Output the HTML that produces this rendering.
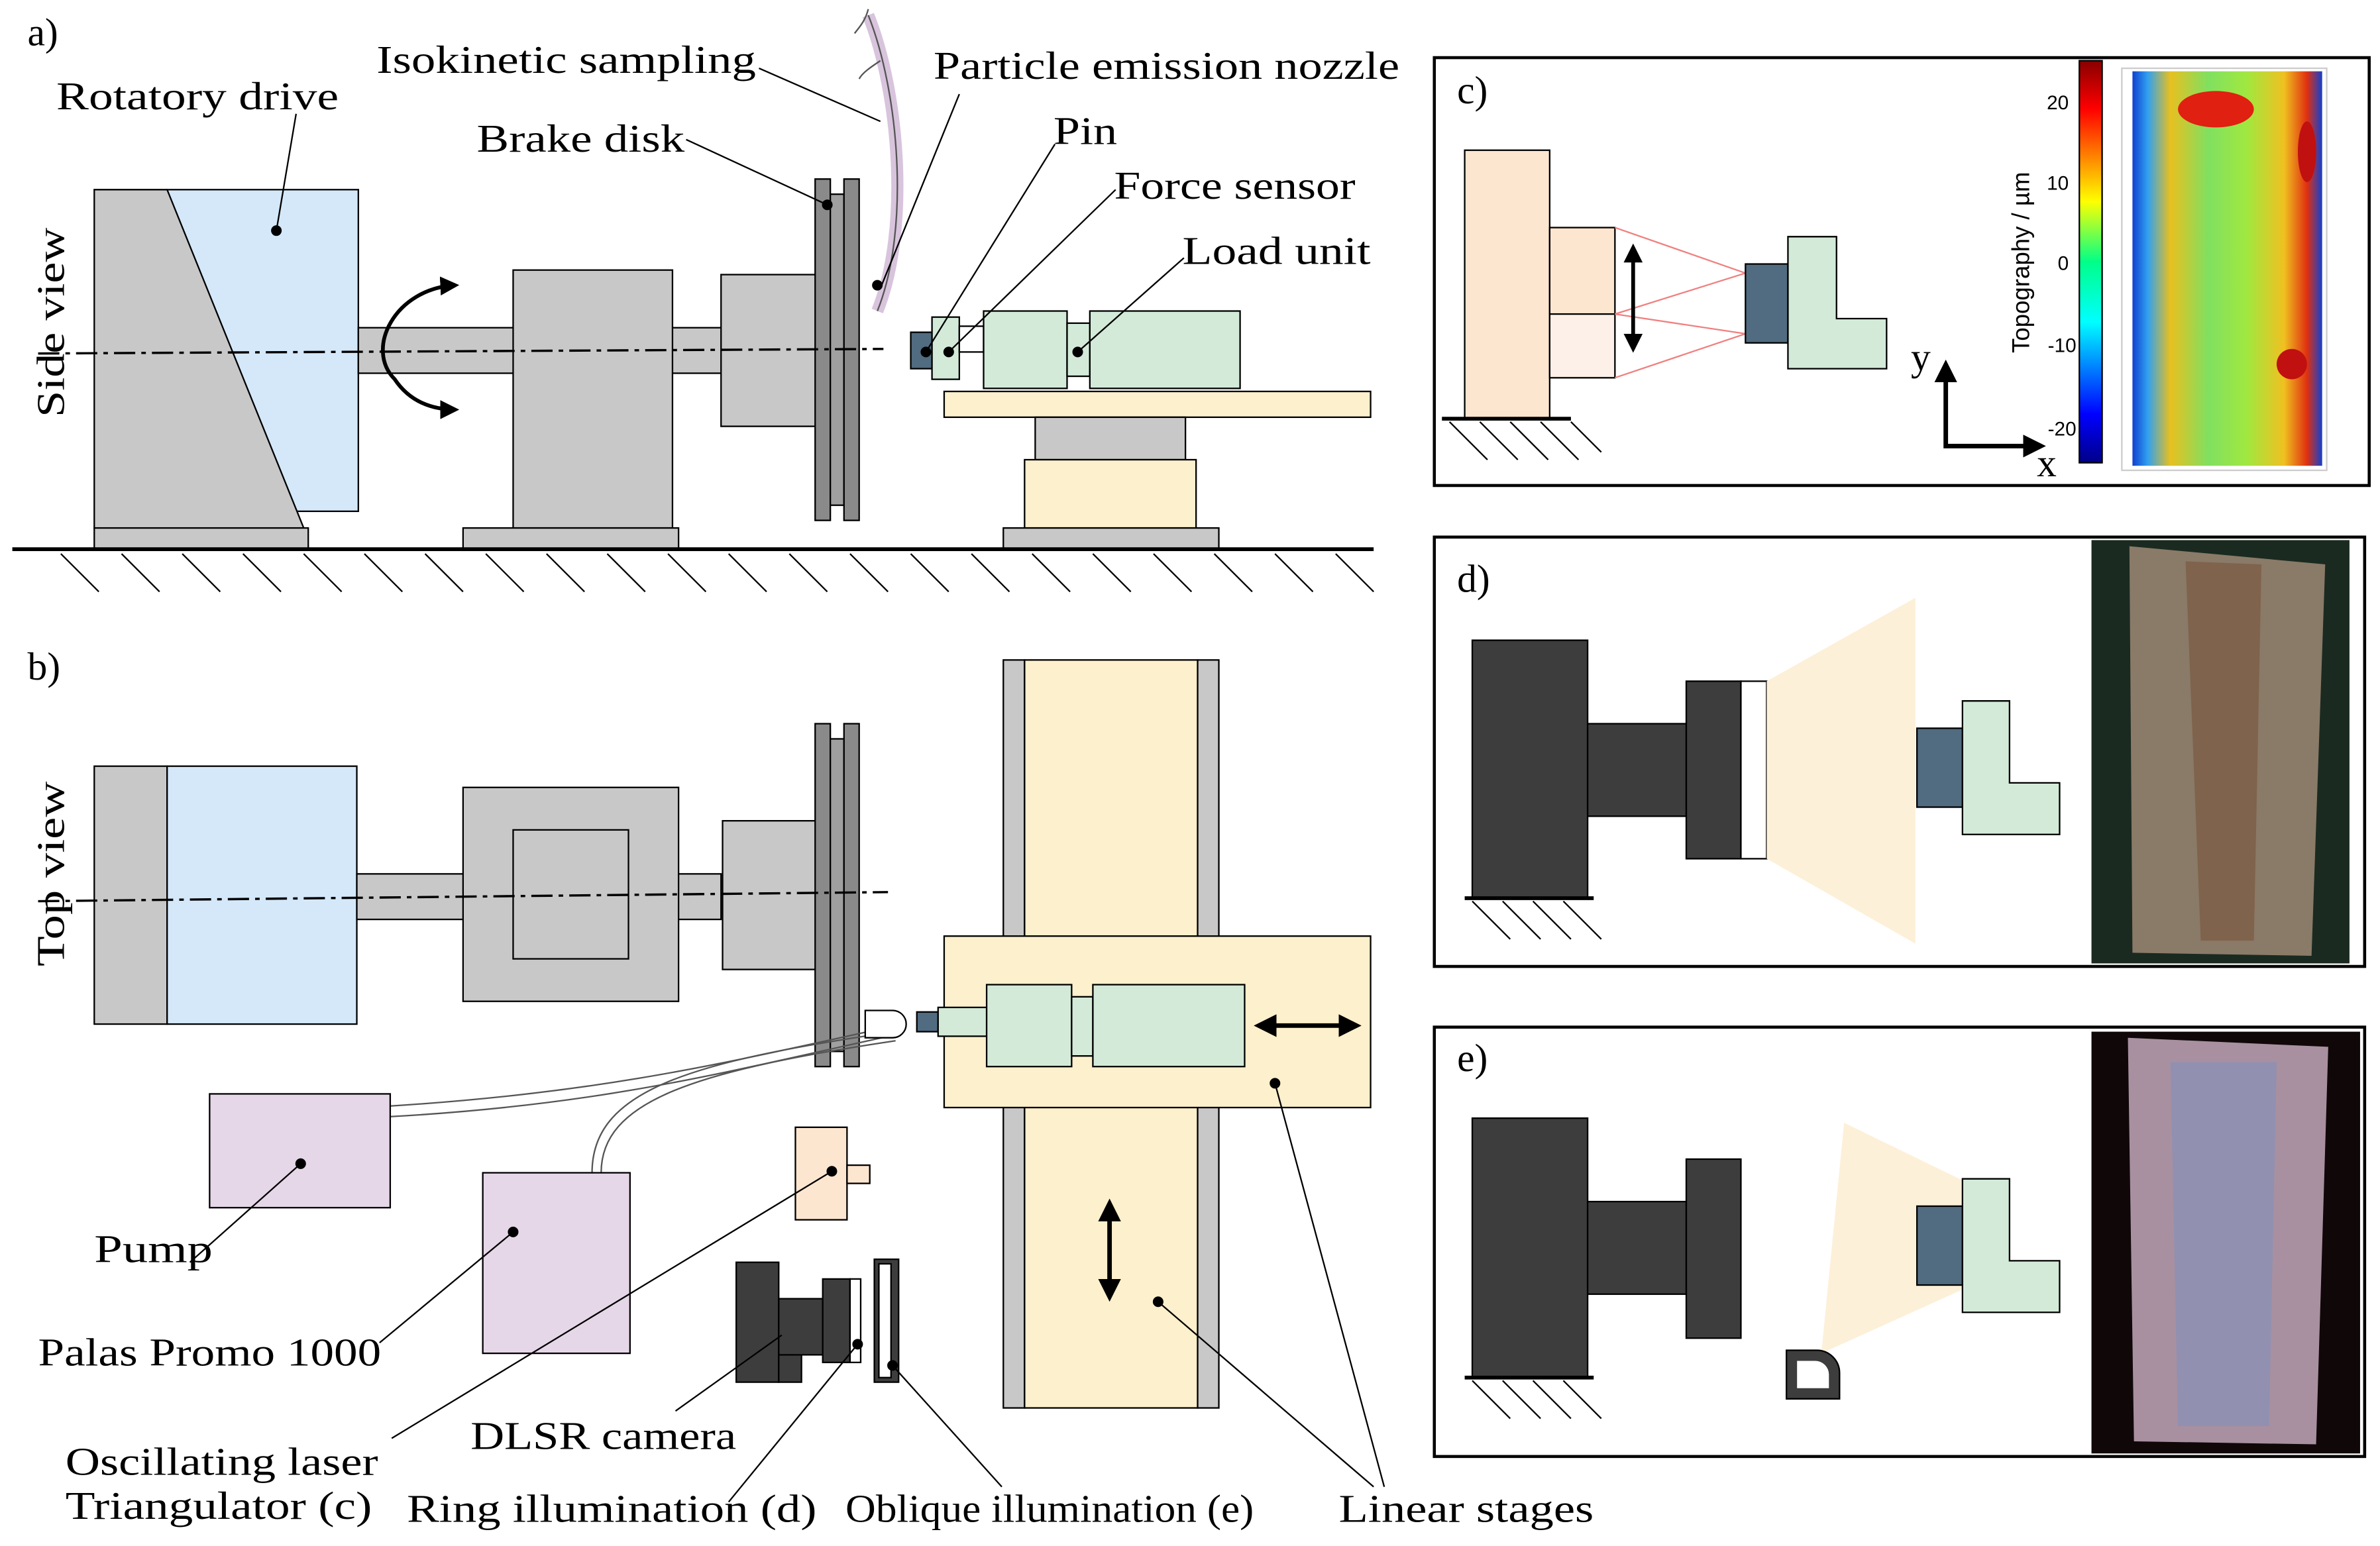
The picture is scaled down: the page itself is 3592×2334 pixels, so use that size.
<!DOCTYPE html>
<html><head><meta charset="utf-8"><style>html,body{margin:0;padding:0;background:#fff}svg{display:block}</style></head><body>
<svg width="3592" height="2334" viewBox="0 0 1568 1019" xmlns="http://www.w3.org/2000/svg" font-family="Liberation Serif, serif" font-size="26">
<defs>
<marker id="ah" viewBox="0 0 10 10" refX="8" refY="5" markerWidth="5" markerHeight="5" orient="auto-start-reverse"><path d="M0,0L10,5L0,10z" fill="#000"/></marker>
<linearGradient id="cb" x1="0" y1="0" x2="0" y2="1"><stop offset="0" stop-color="#800"/><stop offset=".12" stop-color="#f00"/><stop offset=".35" stop-color="#ff0"/><stop offset=".5" stop-color="#0f8"/><stop offset=".65" stop-color="#0ff"/><stop offset=".88" stop-color="#00f"/><stop offset="1" stop-color="#008"/></linearGradient>
<linearGradient id="topo" x1="0" y1="0" x2="1" y2="0"><stop offset="0" stop-color="#1040d0"/><stop offset=".08" stop-color="#30a0f0"/><stop offset=".2" stop-color="#e8c020"/><stop offset=".4" stop-color="#80e060"/><stop offset=".6" stop-color="#a0e840"/><stop offset=".8" stop-color="#f0c020"/><stop offset=".92" stop-color="#e03010"/><stop offset="1" stop-color="#1040d0"/></linearGradient>
</defs>
<g stroke="#000" stroke-width="1">
<rect x="110" y="125" width="126" height="212" fill="#d4e8fa"/>
<polygon points="62,125 110,125 200,348 62,348" fill="#c8c8c8"/>
<rect x="62" y="348" width="141" height="14" fill="#c8c8c8"/>
<rect x="236" y="216" width="240" height="30" fill="#c8c8c8"/>
<rect x="338" y="178" width="105" height="170" fill="#c8c8c8"/>
<rect x="305" y="348" width="142" height="14" fill="#c8c8c8"/>
<rect x="475" y="181" width="65" height="100" fill="#c8c8c8"/>
<rect x="537" y="118" width="10" height="225" fill="#8a8a8a"/>
<rect x="547" y="128" width="9" height="205" fill="#a0a0a0"/>
<rect x="556" y="118" width="10" height="225" fill="#8a8a8a"/>
<rect x="600" y="219" width="14" height="24" fill="#516b80"/>
<rect x="614" y="209" width="18" height="41" fill="#d3ead8"/>
<rect x="632" y="215" width="16" height="17" fill="#fff"/>
<rect x="648" y="205" width="55" height="51" fill="#d3ead8"/>
<rect x="703" y="213" width="15" height="35" fill="#d3ead8"/>
<rect x="718" y="205" width="99" height="51" fill="#d3ead8"/>
<rect x="622" y="258" width="281" height="17" fill="#fdf0cc"/>
<rect x="682" y="275" width="99" height="28" fill="#c8c8c8"/>
<rect x="675" y="303" width="113" height="45" fill="#fdf0cc"/>
<rect x="661" y="348" width="142" height="14" fill="#c8c8c8"/>
<line x1="8" y1="362" x2="905" y2="362" stroke-width="2.5"/>
<path d="M572,10 C592,60 600,150 578,205" fill="none" stroke="#d8c4dc" stroke-width="8"/>
<path d="M572,10 C592,60 600,150 578,205 M572,6 C570,14 566,18 563,22 M580,40 C574,44 568,48 566,52" fill="none" stroke="#555" stroke-width="1"/>
<path d="M40,365 l25,25 M80,365 l25,25 M120,365 l25,25 M160,365 l25,25 M200,365 l25,25 M240,365 l25,25 M280,365 l25,25 M320,365 l25,25 M360,365 l25,25 M400,365 l25,25 M440,365 l25,25 M480,365 l25,25 M520,365 l25,25 M560,365 l25,25 M600,365 l25,25 M640,365 l25,25 M680,365 l25,25 M720,365 l25,25 M760,365 l25,25 M800,365 l25,25 M840,365 l25,25 M880,365 l25,25" stroke-width="1"/>
<line x1="25" y1="233" x2="582" y2="230" stroke-width="1.5" stroke-dasharray="14,4,3,4"/>
<path d="M300,188 C260,190 240,230 260,250 C270,265 285,270 300,270" fill="none" stroke-width="2.5" marker-start="url(#ah)" marker-end="url(#ah)"/>
<rect x="62" y="505" width="48" height="170" fill="#c8c8c8"/>
<rect x="110" y="505" width="125" height="170" fill="#d4e8fa"/>
<rect x="235" y="576" width="240" height="30" fill="#c8c8c8"/>
<rect x="305" y="519" width="142" height="141" fill="#c8c8c8"/>
<rect x="338" y="547" width="76" height="85" fill="#c8c8c8"/>
<rect x="476" y="541" width="64" height="98" fill="#c8c8c8"/>
<rect x="537" y="477" width="10" height="226" fill="#8a8a8a"/>
<rect x="547" y="487" width="9" height="206" fill="#a0a0a0"/>
<rect x="556" y="477" width="10" height="226" fill="#8a8a8a"/>
<line x1="25" y1="594" x2="585" y2="588" stroke-width="1.5" stroke-dasharray="14,4,3,4"/>
<rect x="661" y="435" width="14" height="493" fill="#c8c8c8"/>
<rect x="789" y="435" width="14" height="493" fill="#c8c8c8"/>
<rect x="675" y="435" width="114" height="493" fill="#fdf0cc"/>
<rect x="622" y="617" width="281" height="113" fill="#fdf0cc"/>
<rect x="604" y="667" width="14" height="13" fill="#516b80"/>
<rect x="618" y="664" width="32" height="19" fill="#d3ead8"/>
<rect x="650" y="649" width="56" height="54" fill="#d3ead8"/>
<rect x="706" y="657" width="14" height="39" fill="#d3ead8"/>
<rect x="720" y="649" width="100" height="54" fill="#d3ead8"/>
<line x1="829" y1="676" x2="894" y2="676" stroke-width="3" marker-start="url(#ah)" marker-end="url(#ah)"/>
<line x1="731" y1="793" x2="731" y2="855" stroke-width="3" marker-start="url(#ah)" marker-end="url(#ah)"/>
<path d="M257,729 C400,720 480,700 590,676 M257,736 C400,728 480,706 590,682" fill="none" stroke="#555"/>
<path d="M390,773 C390,720 450,700 590,680 M396,773 C396,726 456,706 590,686" fill="none" stroke="#555"/>
<path d="M570,666 h18 a9,9 0 0 1 0,18 h-18z" fill="#fff"/>
<rect x="138" y="721" width="119" height="75" fill="#e6d7e8"/>
<rect x="318" y="773" width="97" height="119" fill="#e6d7e8"/>
<rect x="524" y="743" width="34" height="61" fill="#fde6d0"/>
<rect x="558" y="768" width="15" height="12" fill="#fde6d0"/>
<rect x="485" y="832" width="28" height="79" fill="#3d3d3d"/>
<rect x="513" y="893" width="15" height="18" fill="#3d3d3d"/>
<rect x="513" y="856" width="29" height="37" fill="#3d3d3d"/>
<rect x="542" y="843" width="18" height="55" fill="#3d3d3d"/>
<rect x="560" y="843" width="7" height="55" fill="#fff"/>
<rect x="576" y="830" width="16" height="81" fill="#3d3d3d"/>
<rect x="579" y="833" width="8" height="75" fill="#fff"/>
<rect x="945" y="38" width="616" height="282" fill="none" stroke-width="2"/>
<rect x="965" y="99" width="56" height="177" fill="#fde6d0"/>
<rect x="1021" y="150" width="43" height="57" fill="#fde6d0"/>
<rect x="1021" y="207" width="43" height="42" fill="#fdf0e8"/>
<path d="M1064,150 L1150,180 M1064,207 L1150,180 M1064,207 L1150,220 M1064,249 L1150,220" stroke="#f08080"/>
<rect x="1150" y="174" width="28" height="52" fill="#516b80"/>
<polygon points="1178,156 1210,156 1210,210 1243,210 1243,243 1178,243" fill="#d3ead8"/>
<line x1="950" y1="276" x2="1035" y2="276" stroke-width="2.5"/>
<path d="M955,278 l25,25 M975,278 l25,25 M995,278 l25,25 M1015,278 l25,25 M1035,278 l20,20"/>
<line x1="1076" y1="163" x2="1076" y2="230" stroke-width="2.5" marker-start="url(#ah)" marker-end="url(#ah)"/>
<polyline points="1282,240 1282,294 1345,294" fill="none" stroke-width="3" marker-start="url(#ah)" marker-end="url(#ah)"/>
<rect x="1370" y="40" width="15" height="265" fill="url(#cb)"/>
<rect x="1398" y="45" width="135" height="265" fill="#fff" stroke="#ccc"/>
<rect x="1405" y="47" width="125" height="260" fill="url(#topo)" stroke="none"/>
<ellipse cx="1460" cy="72" rx="25" ry="12" fill="#e02010" stroke="none"/>
<ellipse cx="1520" cy="100" rx="6" ry="20" fill="#c01010" stroke="none"/>
<ellipse cx="1510" cy="240" rx="10" ry="10" fill="#c01010" stroke="none"/>
<rect x="945" y="354" width="613" height="283" fill="none" stroke-width="2"/>
<rect x="970" y="422" width="76" height="170" fill="#3d3d3d"/>
<rect x="1046" y="477" width="65" height="61" fill="#3d3d3d"/>
<rect x="1111" y="449" width="36" height="117" fill="#3d3d3d"/>
<rect x="1147" y="449" width="17" height="117" fill="#fff"/>
<polygon points="1164,449 1262,394 1262,622 1164,566" fill="#fdf0d8" stroke="none"/>
<rect x="1263" y="480" width="30" height="52" fill="#516b80"/>
<polygon points="1293,462 1324,462 1324,516 1357,516 1357,550 1293,550" fill="#d3ead8"/>
<line x1="965" y1="592" x2="1050" y2="592" stroke-width="2.5"/>
<path d="M970,594 l25,25 M990,594 l25,25 M1010,594 l25,25 M1030,594 l25,25"/>
<rect x="1378" y="356" width="170" height="279" fill="#1a2a20" stroke="none"/>
<polygon points="1403,360 1532,372 1523,630 1405,628" fill="#8a7a68" stroke="none"/>
<polygon points="1440,370 1490,372 1485,620 1450,620" fill="#7a5a40" stroke="none" opacity=".7"/>
<rect x="945" y="677" width="613" height="283" fill="none" stroke-width="2"/>
<rect x="970" y="737" width="76" height="171" fill="#3d3d3d"/>
<rect x="1046" y="792" width="65" height="61" fill="#3d3d3d"/>
<rect x="1111" y="764" width="36" height="118" fill="#3d3d3d"/>
<polygon points="1200,892 1215,740 1293,778 1293,850" fill="#fdf0d8" stroke="none"/>
<rect x="1263" y="795" width="30" height="52" fill="#516b80"/>
<polygon points="1293,777 1324,777 1324,831 1357,831 1357,865 1293,865" fill="#d3ead8"/>
<path d="M1177,890 h20 a15,15 0 0 1 15,15 v17 h-35z" fill="#3d3d3d"/>
<path d="M1184,897 h12 a9,9 0 0 1 9,9 v9 h-21z" fill="#fff" stroke="none"/>
<line x1="965" y1="908" x2="1050" y2="908" stroke-width="2.5"/>
<path d="M970,910 l25,25 M990,910 l25,25 M1010,910 l25,25 M1030,910 l25,25"/>
<rect x="1378" y="680" width="177" height="278" fill="#100808" stroke="none"/>
<polygon points="1402,684 1534,690 1526,952 1406,950" fill="#a890a0" stroke="none"/>
<polygon points="1430,700 1500,700 1495,940 1435,940" fill="#8890b8" stroke="none" opacity=".7"/>
<g fill="none">
<path d="M182,152 L195,75"/><path d="M500,45 L580,80"/><path d="M452,92 L545,135"/><path d="M632,62 L580,190"/>
<path d="M695,95 L610,232"/><path d="M735,125 L625,232"/><path d="M780,170 L710,232"/>
<path d="M125,832 L198,767"/><path d="M250,885 L338,812"/><path d="M258,948 L548,772"/>
<path d="M445,930 L515,880"/><path d="M480,990 L565,886"/><path d="M660,980 L588,900"/>
<path d="M912,980 L840,714 M905,980 L763,858"/>
</g>
<g fill="#000"><circle cx="182" cy="152" r="3"/><circle cx="545" cy="135" r="3"/><circle cx="578" cy="188" r="3"/><circle cx="610" cy="232" r="3"/><circle cx="625" cy="232" r="3"/><circle cx="710" cy="232" r="3"/><circle cx="198" cy="767" r="3"/><circle cx="338" cy="812" r="3"/><circle cx="548" cy="772" r="3"/><circle cx="565" cy="886" r="3"/><circle cx="588" cy="900" r="3"/><circle cx="840" cy="714" r="3"/><circle cx="763" cy="858" r="3"/></g>
</g>
<g fill="#000" lengthAdjust="spacingAndGlyphs">
<text x="18" y="30">a)</text><text x="18" y="448">b)</text>
<text x="960" y="68">c)</text><text x="960" y="390">d)</text><text x="960" y="706">e)</text>
<text x="37" y="72" textLength="186" lengthAdjust="spacingAndGlyphs">Rotatory drive</text>
<text x="248" y="48" textLength="250" lengthAdjust="spacingAndGlyphs">Isokinetic sampling</text>
<text x="314" y="100" textLength="137" lengthAdjust="spacingAndGlyphs">Brake disk</text>
<text x="615" y="52" textLength="307" lengthAdjust="spacingAndGlyphs">Particle emission nozzle</text>
<text x="694" y="95" textLength="42" lengthAdjust="spacingAndGlyphs">Pin</text>
<text x="734" y="131" textLength="159" lengthAdjust="spacingAndGlyphs">Force sensor</text>
<text x="779" y="174" textLength="124" lengthAdjust="spacingAndGlyphs">Load unit</text>
<text transform="translate(42,275) rotate(-90)" textLength="125" lengthAdjust="spacingAndGlyphs">Side view</text>
<text transform="translate(42,637) rotate(-90)" textLength="122" lengthAdjust="spacingAndGlyphs">Top view</text>
<text x="62" y="832" textLength="78" lengthAdjust="spacingAndGlyphs">Pump</text>
<text x="25" y="900" textLength="226" lengthAdjust="spacingAndGlyphs">Palas Promo 1000</text>
<text x="43" y="972" textLength="206" lengthAdjust="spacingAndGlyphs">Oscillating laser</text>
<text x="43" y="1001" textLength="202" lengthAdjust="spacingAndGlyphs">Triangulator (c)</text>
<text x="310" y="955" textLength="175" lengthAdjust="spacingAndGlyphs">DLSR camera</text>
<text x="268" y="1003" textLength="270" lengthAdjust="spacingAndGlyphs">Ring illumination (d)</text>
<text x="557" y="1003" textLength="269" lengthAdjust="spacingAndGlyphs">Oblique illumination (e)</text>
<text x="882" y="1003" textLength="168" lengthAdjust="spacingAndGlyphs">Linear stages</text>
<text x="1259" y="244">y</text><text x="1342" y="314">x</text>
<g font-family="Liberation Sans, sans-serif" font-size="13" text-anchor="end">
<text x="1363" y="72">20</text><text x="1363" y="125">10</text><text x="1363" y="178">0</text><text x="1368" y="232">-10</text><text x="1368" y="287">-20</text>
<text transform="translate(1337,173) rotate(-90)" text-anchor="middle" font-size="16">Topography / µm</text>
</g>
</g>
</svg>
</body></html>
